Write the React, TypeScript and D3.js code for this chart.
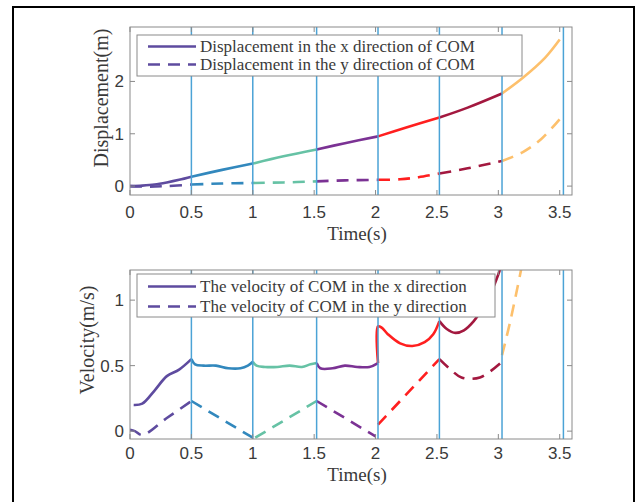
import { useEffect, useRef } from 'react';
import * as d3 from 'd3';

type Pt = [number, number];

// gait phase boundaries (s) and the colour of each phase
const phaseBounds = [0.5, 1.0, 1.52, 2.02, 2.52, 3.03, 3.53];
const phaseColors = ['#5e4b9f', '#3288bd', '#66c2a5', '#7b3294', '#ff1f1f', '#a3183f', '#fdc06c'];

const timeTicks = [0, 0.5, 1, 1.5, 2, 2.5, 3, 3.5];
const dispTicks = [0, 1, 2];
const velTicks = [0, 0.5, 1];

// displacement of COM, one array per phase
const dispX: Pt[][] = [
  [[0, 0], [0.1, 0.01], [0.2, 0.03], [0.3, 0.07], [0.4, 0.12], [0.5, 0.18]],
  [[0.5, 0.18], [0.75, 0.31], [1.0, 0.43]],
  [[1.0, 0.43], [1.25, 0.57], [1.52, 0.7]],
  [[1.52, 0.7], [1.75, 0.82], [2.02, 0.95]],
  [[2.02, 0.95], [2.25, 1.12], [2.52, 1.31]],
  [[2.52, 1.31], [2.75, 1.5], [3.03, 1.77]],
  [[3.03, 1.77], [3.2, 2.07], [3.38, 2.45], [3.5, 2.8]],
];
const dispY: Pt[][] = [
  [[0, 0], [0.15, -0.01], [0.3, 0.0], [0.5, 0.03]],
  [[0.5, 0.03], [0.75, 0.05], [1.0, 0.06]],
  [[1.0, 0.06], [1.25, 0.07], [1.52, 0.09]],
  [[1.52, 0.09], [1.75, 0.11], [2.02, 0.12]],
  [[2.02, 0.12], [2.2, 0.13], [2.35, 0.17], [2.52, 0.24]],
  [[2.52, 0.24], [2.75, 0.34], [3.03, 0.48]],
  [[3.03, 0.48], [3.2, 0.65], [3.35, 0.9], [3.5, 1.28]],
];

// velocity of COM, one array per phase
const velX: Pt[][] = [
  [[0.03, 0.2], [0.1, 0.21], [0.2, 0.31], [0.3, 0.42], [0.4, 0.47], [0.5, 0.55]],
  [[0.5, 0.55], [0.53, 0.51], [0.6, 0.5], [0.7, 0.5], [0.8, 0.48], [0.9, 0.48], [0.96, 0.5], [1.0, 0.53]],
  [[1.0, 0.53], [1.03, 0.5], [1.1, 0.49], [1.2, 0.49], [1.3, 0.5], [1.4, 0.49], [1.47, 0.51], [1.52, 0.52]],
  [[1.52, 0.52], [1.55, 0.48], [1.65, 0.48], [1.75, 0.5], [1.85, 0.49], [1.95, 0.49], [2.02, 0.52]],
  [[2.02, 0.52], [2.02, 0.8], [2.05, 0.79], [2.1, 0.74], [2.2, 0.67], [2.3, 0.65], [2.4, 0.68], [2.47, 0.74], [2.52, 0.84]],
  [[2.52, 0.84], [2.58, 0.78], [2.65, 0.75], [2.72, 0.77], [2.8, 0.84], [2.88, 0.95], [2.96, 1.1], [3.02, 1.25]],
  [[3.03, 1.3], [3.1, 1.5]],
];
const velY: Pt[][] = [
  [[0, 0.01], [0.04, 0.0], [0.1, -0.03], [0.3, 0.1], [0.5, 0.23]],
  [[0.5, 0.23], [1.0, -0.05]],
  [[1.02, -0.05], [1.52, 0.23]],
  [[1.52, 0.23], [2.0, -0.04]],
  [[2.02, 0.05], [2.52, 0.55]],
  [[2.52, 0.55], [2.6, 0.48], [2.7, 0.41], [2.85, 0.41], [3.03, 0.53]],
  [[3.03, 0.58], [3.1, 0.85], [3.2, 1.3]],
];

const dispLegend = ['Displacement in the x direction of COM', 'Displacement in the y direction of COM'];
const velLegend = ['The velocity of COM in the x direction', 'The velocity of COM in the y direction'];

const SANS = "'Liberation Sans', Arial, sans-serif";
const SERIF = "'Liberation Serif', 'Times New Roman', serif";
const AXIS = '#8a8a8a';
const TEXT = '#3a3a3a';

function drawPanel(svg: any, cfg: any) {
  const { id, left, right, top, bottom, yDomain, yTicks, solid, dashed, legend, leg, yLabel, yLabelX, yLabelY, tickBase, titleBase } = cfg;
  const x = d3.scaleLinear().domain([0, 3.6]).range([left, right]);
  const y = d3.scaleLinear().domain(yDomain).range([bottom, top]);

  svg.append('clipPath').attr('id', id)
    .append('rect').attr('x', left).attr('y', top).attr('width', right - left).attr('height', bottom - top);

  const g = svg.append('g').attr('clip-path', `url(#${id})`);
  const line = d3.line<Pt>().x(d => x(d[0])).y(d => y(d[1])).curve(d3.curveCatmullRom.alpha(0.5));

  solid.forEach((seg: Pt[], i: number) => {
    g.append('path').attr('d', line(seg)).attr('fill', 'none')
      .attr('stroke', phaseColors[i]).attr('stroke-width', 2.6);
  });
  dashed.forEach((seg: Pt[], i: number) => {
    g.append('path').attr('d', line(seg)).attr('fill', 'none')
      .attr('stroke', phaseColors[i]).attr('stroke-width', 2.6).attr('stroke-dasharray', '12,8');
  });

  // phase boundary lines
  g.selectAll('.phase').data(phaseBounds).enter().append('line')
    .attr('x1', d => x(d)).attr('x2', d => x(d)).attr('y1', top).attr('y2', bottom)
    .attr('stroke', '#4ba3d6').attr('stroke-width', 1.5);

  // box + ticks
  svg.append('rect').attr('x', left).attr('y', top).attr('width', right - left).attr('height', bottom - top)
    .attr('fill', 'none').attr('stroke', AXIS).attr('stroke-width', 1);

  timeTicks.forEach(t => {
    svg.append('line').attr('x1', x(t)).attr('x2', x(t)).attr('y1', bottom).attr('y2', bottom - 5).attr('stroke', AXIS);
    svg.append('line').attr('x1', x(t)).attr('x2', x(t)).attr('y1', top).attr('y2', top + 5).attr('stroke', AXIS);
    svg.append('text').attr('x', x(t)).attr('y', tickBase).attr('text-anchor', 'middle')
      .style('font-family', SANS).style('font-size', '17px').style('fill', TEXT).text(String(t));
  });
  yTicks.forEach((v: number) => {
    svg.append('line').attr('x1', left).attr('x2', left + 5).attr('y1', y(v)).attr('y2', y(v)).attr('stroke', AXIS);
    svg.append('line').attr('x1', right).attr('x2', right - 5).attr('y1', y(v)).attr('y2', y(v)).attr('stroke', AXIS);
    svg.append('text').attr('x', left - 6).attr('y', y(v) + 6).attr('text-anchor', 'end')
      .style('font-family', SANS).style('font-size', '17px').style('fill', TEXT).text(String(v));
  });

  svg.append('text').attr('x', 357).attr('y', titleBase).attr('text-anchor', 'middle')
    .style('font-family', SERIF).style('font-size', '19px').style('fill', TEXT).text('Time(s)');
  svg.append('text').attr('transform', `translate(${yLabelX},${yLabelY}) rotate(-90)`).attr('text-anchor', 'middle')
    .style('font-family', SERIF).style('font-size', '20px').style('fill', TEXT).text(yLabel);

  // legend
  svg.append('rect').attr('x', leg.x).attr('y', leg.y).attr('width', leg.w).attr('height', leg.h)
    .attr('fill', 'white').attr('stroke', AXIS).attr('stroke-width', 1);
  legend.forEach((label: string, i: number) => {
    const ly = leg.row0 + i * leg.step;
    svg.append('line').attr('x1', leg.x + 11).attr('x2', leg.x + 59).attr('y1', ly).attr('y2', ly)
      .attr('stroke', phaseColors[0]).attr('stroke-width', 2.6)
      .attr('stroke-dasharray', i === 1 ? '12,8' : null);
    svg.append('text').attr('x', leg.x + 63).attr('y', ly + 5)
      .style('font-family', SERIF).style('font-size', '17px').style('fill', TEXT).text(label);
  });
}

export default function App() {
  const svgRef = useRef<SVGSVGElement>(null);

  useEffect(() => {
    const svg = d3.select(svgRef.current);
    svg.selectAll('*').remove();

    svg.append('rect').attr('width', 641).attr('height', 502).attr('fill', 'white');
    // outer frame
    svg.append('path').attr('d', 'M13,502 V7 H634 V502').attr('fill', 'none')
      .attr('stroke', '#000').attr('stroke-width', 2);

    drawPanel(svg, {
      id: 'clipTop', left: 130, right: 572, top: 27, bottom: 195,
      yDomain: [-0.17, 3.04], yTicks: dispTicks, solid: dispX, dashed: dispY,
      legend: dispLegend, leg: { x: 137, y: 35, w: 385, h: 41, row0: 46.5, step: 18 },
      yLabel: 'Displacement(m)', yLabelX: 108, yLabelY: 98, tickBase: 218, titleBase: 240,
    });
    drawPanel(svg, {
      id: 'clipBottom', left: 130, right: 572, top: 270, bottom: 439,
      yDomain: [-0.06, 1.23], yTicks: velTicks, solid: velX, dashed: velY,
      legend: velLegend, leg: { x: 137, y: 274, w: 358, h: 43, row0: 286.5, step: 20 },
      yLabel: 'Velocity(m/s)', yLabelX: 94, yLabelY: 340, tickBase: 459, titleBase: 481,
    });
  }, []);

  return (
    <svg ref={svgRef} width={641} height={502}
      style={{ position: 'absolute', left: 0, top: 0, display: 'block' }} />
  );
}
